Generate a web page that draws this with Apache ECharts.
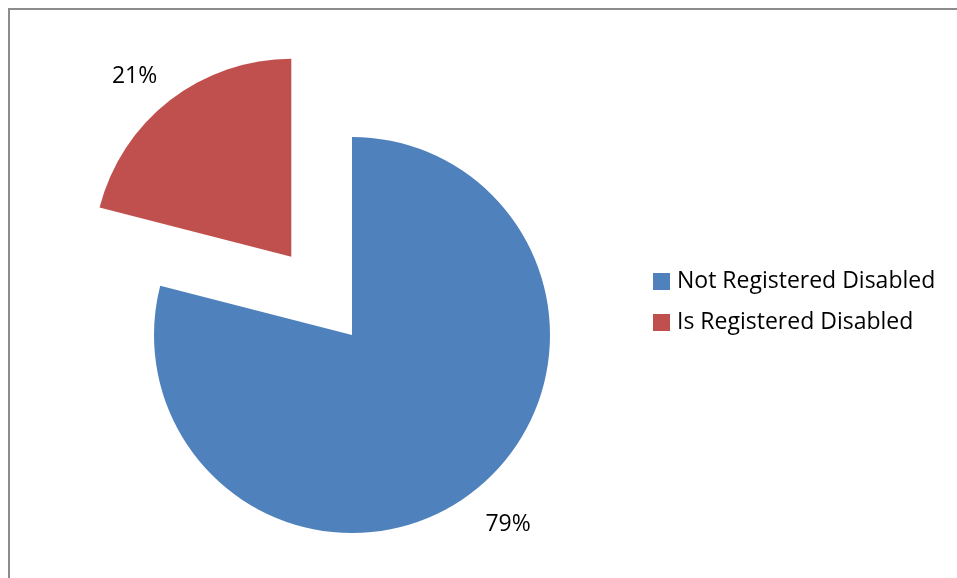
<!DOCTYPE html>
<html>
<head>
<meta charset="utf-8">
<script src="https://cdn.jsdelivr.net/npm/echarts@6/dist/echarts.min.js"></script>
<style>
  html, body { margin: 0; padding: 0; background: #fff; }
  #chart { width: 957px; height: 578px; }
</style>
</head>
<body>
<div id="chart"></div>
<script>
// data
const categories = ['Not Registered Disabled', 'Is Registered Disabled']
const shares = [79, 21]
const colors = ['#4F81BD', '#C0504D']

let chart = echarts.init(document.getElementById('chart'))

let pieData = categories.map((name, i) => ({
  name: name,
  value: shares[i],
  itemStyle: { color: colors[i] },
  selected: i === 1,
  labelLine: i === 1 ? { length: 30, length2: 12 } : { length: 42, length2: 4 }
}))

let option = {
  backgroundColor: '#fff',
  animation: false,
  graphic: [{
    type: 'rect',
    shape: { x: 9, y: 9, width: 960, height: 580 },
    style: { fill: 'none', stroke: '#8c8c8c', lineWidth: 2 },
    silent: true
  }],
  legend: {
    orient: 'vertical',
    left: 653,
    top: 270,
    padding: 0,
    itemWidth: 17,
    itemHeight: 17,
    itemGap: 18,
    icon: 'rect',
    data: categories,
    textStyle: {
      fontFamily: 'Open Sans',
      fontSize: 23,
      color: '#000',
      lineHeight: 17,
      padding: [0, 0, 0, 2]
    }
  },
  series: [{
    type: 'pie',
    center: [352, 335],
    radius: 198,
    startAngle: 90,
    clockwise: true,
    selectedMode: 'single',
    selectedOffset: 99,
    avoidLabelOverlap: false,
    data: pieData,
    label: {
      show: true,
      position: 'outside',
      formatter: '{c}%',
      fontFamily: 'Open Sans',
      fontSize: 23,
      color: '#000',
      distanceToLabelLine: 5
    },
    labelLine: { show: false },
    labelLayout: function () {
      return { align: 'center', verticalAlign: 'middle' }
    }
  }]
}

chart.setOption(option)
</script>
</body>
</html>
